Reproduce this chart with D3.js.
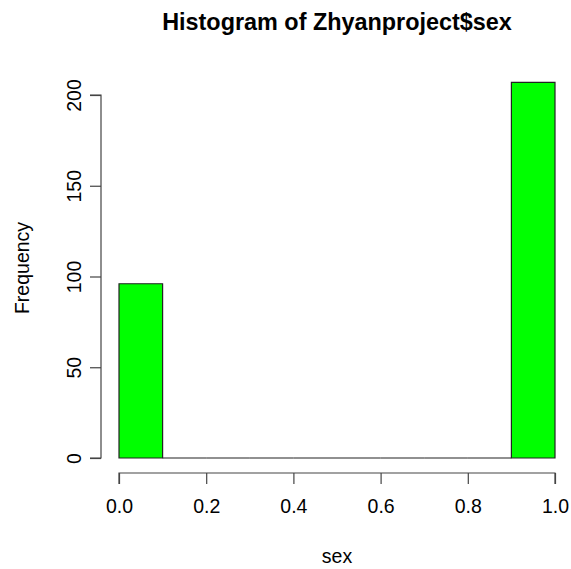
<!DOCTYPE html>
<html>
<head>
<meta charset="utf-8">
<script src="https://cdn.jsdelivr.net/npm/d3@7"></script>
<style>
  body { margin: 0; background: #fff; }
  svg text { font-family: "Liberation Sans", Arial, sans-serif; fill: #000; }
</style>
</head>
<body>
<div id="chart"></div>
<script>
const breaks = [0, 0.1, 0.2, 0.3, 0.4, 0.5, 0.6, 0.7, 0.8, 0.9, 1.0];
const counts = [96, 0, 0, 0, 0, 0, 0, 0, 0, 207];
const xTicks = [0, 0.2, 0.4, 0.6, 0.8, 1.0];
const yTicks = [0, 50, 100, 150, 200];

const width = 571, height = 569;

const svg = d3.select("#chart").append("svg")
    .attr("width", width)
    .attr("height", height);

const x = d3.scaleLinear().domain([0, 1]).range([119, 555]);
const y = d3.scaleLinear().domain([0, 200]).range([458, 95]);

const bins = counts.map((c, i) => ({ x0: breaks[i], x1: breaks[i + 1], count: c }));

// path instead of rect so zero-height bins still show as a line
svg.selectAll(".bar")
  .data(bins)
  .enter().append("path")
  .attr("class", "bar")
  .attr("d", d => `M${x(d.x0)},${y(0)}V${y(d.count)}H${x(d.x1)}V${y(0)}Z`)
  .attr("fill", "#00ff00")
  .attr("stroke", "#222")
  .attr("stroke-width", 1.2);

// x axis
const xAxis = svg.append("g")
  .attr("transform", "translate(0,473)")
  .call(d3.axisBottom(x).tickValues(xTicks).tickFormat(d3.format(".1f")).tickSize(11).tickPadding(15));
xAxis.select(".domain").attr("stroke", "#444").attr("stroke-width", 1.2)
  .attr("d", `M${x(0)},11V0H${x(1)}V11`);
xAxis.selectAll(".tick line").attr("stroke", "#444").attr("stroke-width", 1.2);
xAxis.selectAll(".tick text").attr("font-size", 19.5).attr("font-family", "Liberation Sans, Arial, sans-serif");

// y axis
const yAxis = svg.append("g")
  .attr("transform", "translate(101,0)")
  .call(d3.axisLeft(y).tickValues(yTicks).tickSize(11).tickPadding(0));
yAxis.select(".domain").attr("stroke", "#444").attr("stroke-width", 1.2)
  .attr("d", `M-11,${y(0)}H0V${y(200)}H-11`);
yAxis.selectAll(".tick line").attr("stroke", "#444").attr("stroke-width", 1.2);
yAxis.selectAll(".tick text")
  .attr("font-size", 19.5)
  .attr("font-family", "Liberation Sans, Arial, sans-serif")
  .attr("x", null).attr("dy", null)
  .attr("text-anchor", "middle")
  .attr("transform", "translate(-27,0) rotate(-90)")
  .attr("y", 7);

// labels
svg.append("text")
  .attr("x", 337).attr("y", 30)
  .attr("text-anchor", "middle")
  .attr("font-size", 23.4)
  .attr("font-weight", "bold")
  .text("Histogram of Zhyanproject$sex");

svg.append("text")
  .attr("x", 337).attr("y", 563)
  .attr("text-anchor", "middle")
  .attr("font-size", 19.5)
  .text("sex");

svg.append("text")
  .attr("transform", "translate(29,268) rotate(-90)")
  .attr("text-anchor", "middle")
  .attr("font-size", 19.5)
  .text("Frequency");
</script>
</body>
</html>
